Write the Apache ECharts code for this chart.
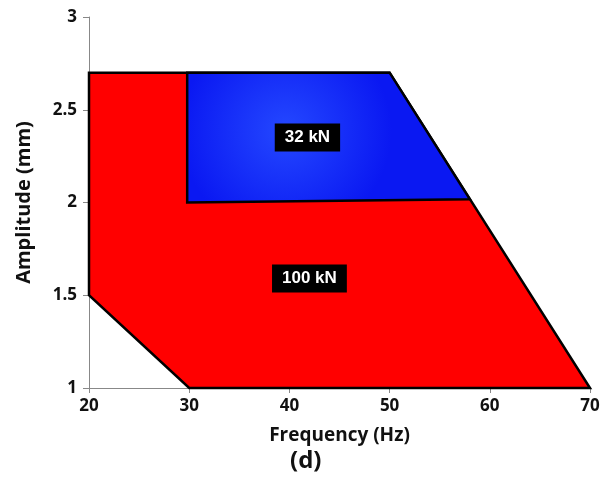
<!DOCTYPE html>
<html><head><meta charset="utf-8">
<script src="https://cdn.jsdelivr.net/npm/echarts@6/dist/echarts.min.js"></script>
<style>html,body{margin:0;padding:0;background:#fff}#c{width:605px;height:481px}</style>
</head><body><div id="c"></div>
<script>
// Region vertices [frequency (Hz), amplitude (mm)]
const region100kN = [[20,1.5],[20,2.7],[50,2.7],[70,1],[30,1]];
const region32kN = [[29.8,2.7],[50,2.7],[58,2.018],[29.8,2.0]];
const labelNames = ['32 kN','100 kN'];
const labelPos = [[41.8,2.35],[42.0,1.59]];
const xTicks = [20,30,40,50,60,70];
const yTicks = [1,1.5,2,2.5,3];

const FONT = '"Open Sans", "Liberation Sans", sans-serif';
const chart = echarts.init(document.getElementById('c'), null, {renderer:'canvas'});

function polySeries(points, fill, z){
  return {
    type:'custom', z:z,
    data:[0],
    renderItem:function(params, api){
      const pts = points.map(p => api.coord(p));
      return {type:'polygon', shape:{points:pts}, style:{fill:fill, stroke:'#000', lineWidth:2.5, lineJoin:'miter'}};
    }
  };
}

chart.setOption({
  animation:false,
  grid:{left:89,right:15,top:17,bottom:93},
  xAxis:{type:'value',min:xTicks[0],max:xTicks[xTicks.length-1],interval:10,
    name:'Frequency (Hz)',nameLocation:'middle',nameGap:38,
    nameTextStyle:{fontFamily:FONT,fontWeight:'bold',fontSize:19,color:'#111'},
    axisLine:{lineStyle:{color:'#888',width:1}},
    axisTick:{show:true,length:5,lineStyle:{color:'#888'}},
    axisLabel:{fontFamily:FONT,fontWeight:'bold',fontSize:17,color:'#111',margin:10},
    splitLine:{show:false}},
  yAxis:{type:'value',min:yTicks[0],max:yTicks[yTicks.length-1],interval:0.5,
    name:'Amplitude (mm)',nameLocation:'middle',nameGap:55,
    nameTextStyle:{fontFamily:FONT,fontWeight:'bold',fontSize:20,color:'#111'},
    axisLine:{show:true,lineStyle:{color:'#888',width:1}},
    axisTick:{show:true,length:6,lineStyle:{color:'#888'}},
    axisLabel:{fontFamily:FONT,fontWeight:'bold',fontSize:17,color:'#111',margin:12},
    splitLine:{show:false}},
  graphic:[{type:'text',left:290,top:449,
    style:{text:'(d)',font:'bold 24px '+FONT,fill:'#111'}}],
  series:[
    polySeries(region100kN,'#ff0000',2),
    polySeries(region32kN,{type:'radial',x:0.35,y:0.45,r:0.8,colorStops:[{offset:0,color:'#2448ff'},{offset:1,color:'#0a18f2'}]},3),
    {type:'scatter',z:5,symbolSize:0,itemStyle:{opacity:1},
      data:labelPos.map((p,i)=>({value:p,name:labelNames[i]})),
      label:{show:true,position:'inside',formatter:'{b}',color:'#fff',opacity:1,
        fontFamily:'"Liberation Sans", Arial, sans-serif',fontWeight:'bold',fontSize:17,
        backgroundColor:'#000',padding:[6,10,5,10]}}
  ]
});
</script></body></html>
